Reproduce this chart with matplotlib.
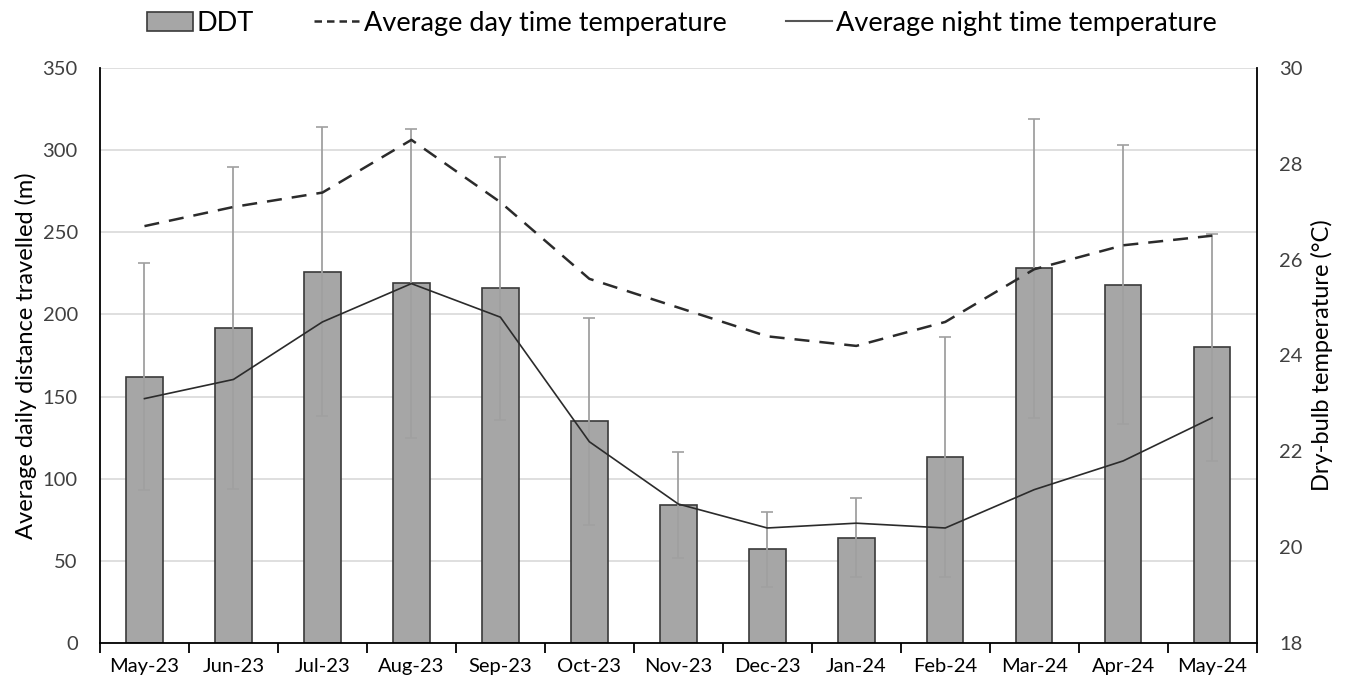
import matplotlib
matplotlib.use("Agg")
import matplotlib.pyplot as plt
import numpy as np
from matplotlib.lines import Line2D
from matplotlib.patches import Patch

months = ["May-23", "Jun-23", "Jul-23", "Aug-23", "Sep-23", "Oct-23", "Nov-23",
          "Dec-23", "Jan-24", "Feb-24", "Mar-24", "Apr-24", "May-24"]
ddt = [162, 192, 226, 219, 216, 135, 84, 57, 64, 113, 228, 218, 180]
ddt_err = [69, 98, 88, 94, 80, 63, 32, 23, 24, 73, 91, 85, 69]
day_temp = [26.7, 27.1, 27.4, 28.5, 27.2, 25.6, 25.0, 24.4, 24.2, 24.7, 25.8, 26.3, 26.5]
night_temp = [23.1, 23.5, 24.7, 25.5, 24.8, 22.2, 20.9, 20.4, 20.5, 20.4, 21.2, 21.8, 22.7]

plt.rcParams['font.family'] = ['Lato', 'DejaVu Sans']

fig = plt.figure(figsize=(13.64, 6.89), dpi=100)
ax = fig.add_axes([0.0733, 0.0668, 0.848, 0.8345])
x = np.arange(len(months))

ax.bar(x, ddt, width=0.41, color="#a6a6a6", edgecolor="#3a3a3a", linewidth=1.2, zorder=2)
ax.errorbar(x, ddt, yerr=ddt_err, fmt="none", ecolor="#a0a0a0", elinewidth=1.3,
            capsize=4, capthick=1.2, zorder=3)
ax.set_ylim(0, 350)
ax.set_yticks(np.arange(0, 351, 50))
ax.set_xlim(-0.5, len(months) - 0.5)
ax.grid(axis="y", color="#d9d9d9", linewidth=1.2, zorder=0)
ax.set_axisbelow(True)
ax.set_xticks(x)
ax.set_xticklabels(months)
ax.set_xticks(np.arange(-0.5, len(months), 1), minor=True)
ax.tick_params(axis="x", which="major", length=0, pad=11, labelsize=14.5, colors="#000000")
ax.tick_params(axis="x", which="minor", length=7, width=1.3, color="#000000")
ax.tick_params(axis="y", length=0, pad=16, labelsize=14.5, labelcolor="#404040")
for s in ["top", "right"]:
    ax.spines[s].set_visible(False)
ax.spines["left"].set_linewidth(1.3)
ax.spines["bottom"].set_linewidth(1.3)
ax.set_ylabel("Average daily distance travelled (m)", fontsize=17, labelpad=4)

ax2 = ax.twinx()
ax2.plot(x, day_temp, color="#2b2b2b", linestyle=(0, (6, 4)), linewidth=1.8, zorder=4)
ax2.plot(x, night_temp, color="#2b2b2b", linestyle="-", linewidth=1.2, zorder=4)
ax2.set_ylim(18, 30)
ax2.set_yticks(np.arange(18, 31, 2))
ax2.tick_params(axis="y", length=0, pad=16, labelsize=14.5, labelcolor="#404040")
for s in ["top", "left", "bottom"]:
    ax2.spines[s].set_visible(False)
ax2.spines["right"].set_linewidth(1.3)
ax2.set_ylabel("Dry-bulb temperature (°C)", fontsize=17, labelpad=6)

handles = [Patch(facecolor="#a6a6a6", edgecolor="#3a3a3a", linewidth=1.2),
           Line2D([0], [0], color="#2b2b2b", linestyle=(0, (3, 2)), linewidth=1.8),
           Line2D([0], [0], color="#555555", linewidth=1.5)]
labels = ["DDT", "Average day time temperature", "Average night time temperature"]
fig.legend(handles, labels, loc="upper center", bbox_to_anchor=(0.5, 1.02), ncol=3,
           frameon=False, fontsize=19.5, handlelength=1.7, handletextpad=0.15,
           columnspacing=2.2)

fig.savefig("out.png", dpi=100)
